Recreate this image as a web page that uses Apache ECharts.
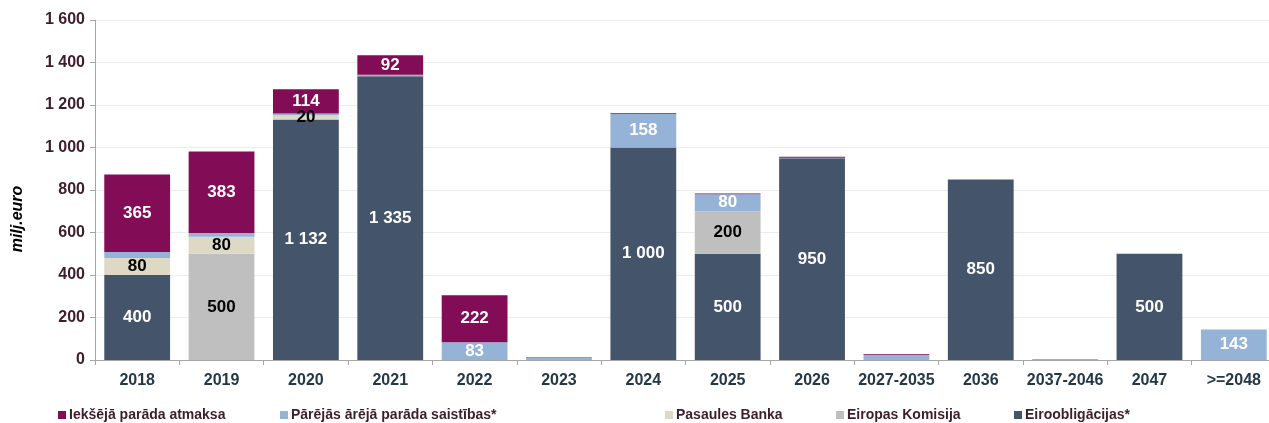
<!DOCTYPE html>
<html>
<head>
<meta charset="utf-8">
<script src="https://cdn.jsdelivr.net/npm/echarts@6/dist/echarts.min.js"></script>
<style>html,body{margin:0;padding:0;background:#fff;overflow:hidden}#c{width:1276px;height:423px}</style>
</head>
<body>
<div id="c"></div>
<script>
const categories = ['2018','2019','2020','2021','2022','2023','2024','2025','2026','2027-2035','2036','2037-2046','2047','>=2048'];
const eiroobligacijas = [400, 0, 1132, 1335, 0, 0, 1000, 500, 950, 0, 850, 0, 500, 0];
const eiropasKomisija = [0, 500, 0, 0, 0, 0, 0, 200, 0, 0, 0, 0, 0, 0];
const pasaulesBanka = [80, 80, 20, 0, 0, 0, 0, 0, 0, 0, 0, 0, 0, 0];
const parejasArejas = [28, 18, 8, 7, 83, 9, 158, 80, 2, 25, 2, 5, 0, 143];
const iekshejas = [365, 383, 114, 92, 222, 3, 3, 3, 5, 3, 0, 0, 0, 0];
const yTicks = [0, 200, 400, 600, 800, 1000, 1200, 1400, 1600];

const fmt = v => String(v).replace(/\B(?=(\d{3})+(?!\d))/g, ' ');
const txt = '#3d1e2c';

function mk(name, data, color, labelColor, minShow) {
  return {
    name, type: 'bar', stack: 'a', data, barCategoryGap: '22%',
    itemStyle: { color },
    label: {
      show: true, position: 'inside', color: labelColor,
      fontFamily: 'Liberation Sans', fontWeight: 'bold', fontSize: 17,
      formatter: p => (p.value >= minShow ? fmt(p.value) : '')
    },
    labelLayout: { hideOverlap: false }
  };
}

const names = ['Iekšējā parāda atmaksa', 'Pārējās ārējā parāda saistības*', 'Pasaules Banka', 'Eiropas Komisija', 'Eiroobligācijas*'];
const legendLefts = [58, 280, 665, 836, 1014];

const chart = echarts.init(document.getElementById('c'), null, { renderer: 'canvas' });
chart.setOption({
  animation: false,
  grid: { left: 95, right: 0, top: 20, bottom: 63, containLabel: false },
  graphic: [{
    type: 'text', x: 18, y: 219, rotation: Math.PI / 2,
    style: { text: 'milj.euro', fill: '#000', font: 'italic bold 16px "Liberation Sans"', align: 'center', verticalAlign: 'middle' }
  }],
  legend: names.map((n, i) => ({
    data: [n], left: legendLefts[i], top: 408, padding: 0, itemWidth: 8, itemHeight: 8, itemGap: 3,
    icon: 'rect',
    textStyle: { color: txt, fontFamily: 'Liberation Sans', fontWeight: 'bold', fontSize: 14, padding: [0, 0, 0, -2] }
  })),
  xAxis: {
    type: 'category', data: categories,
    axisLine: { lineStyle: { color: '#a6a6a6', width: 1 } },
    axisTick: { show: true, alignWithLabel: false, length: 5, lineStyle: { color: '#a6a6a6' } },
    axisLabel: { color: '#243847', fontFamily: 'Liberation Sans', fontWeight: 'bold', fontSize: 16, margin: 13, interval: 0 }
  },
  yAxis: {
    type: 'value', min: 0, max: 1600, interval: 200,
    axisLine: { show: true, lineStyle: { color: '#a6a6a6' } },
    axisTick: { show: true, length: 5, lineStyle: { color: '#a6a6a6' } },
    splitLine: { lineStyle: { color: '#ececec' } },
    axisLabel: { color: txt, fontFamily: 'Liberation Sans', fontWeight: 'bold', fontSize: 16, margin: 10,
      formatter: v => yTicks.includes(v) ? fmt(v) : '' }
  },
  series: [
    mk(names[4], eiroobligacijas, '#44546a', '#ffffff', 80),
    mk(names[3], eiropasKomisija, '#bfbfbf', '#000000', 80),
    mk(names[2], pasaulesBanka, '#ddd9c4', '#000000', 20),
    mk(names[1], parejasArejas, '#95b3d7', '#ffffff', 80),
    mk(names[0], iekshejas, '#820c55', '#ffffff', 80)
  ]
});
</script>
</body>
</html>
